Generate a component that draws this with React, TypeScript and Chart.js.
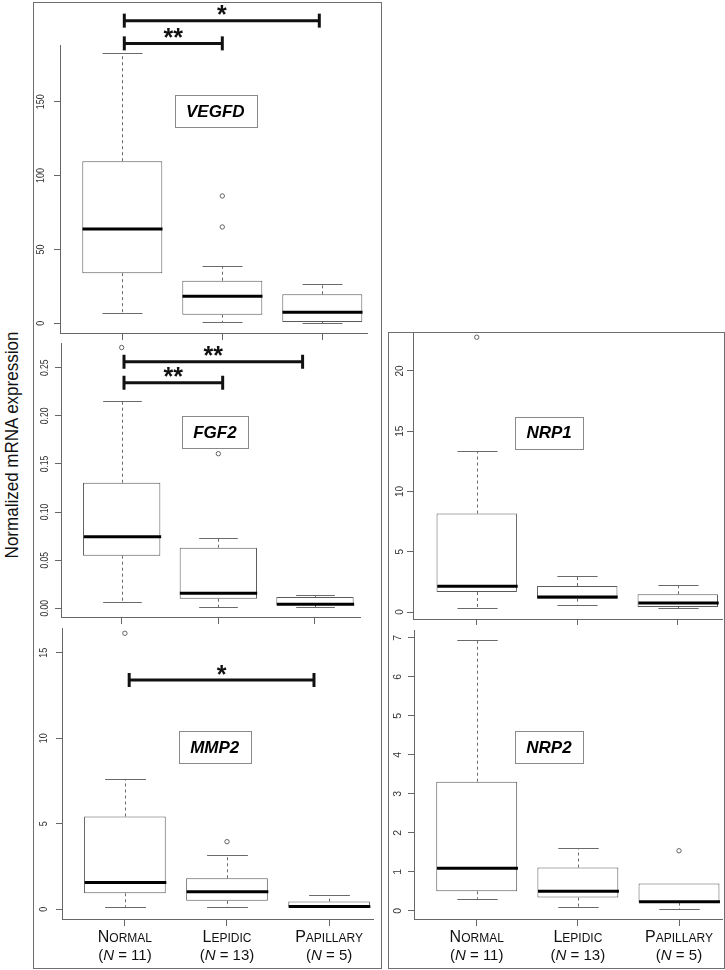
import React, { useEffect, useRef } from "react";
import { Chart, registerables } from "chart.js";

Chart.register(...registerables);

const FONT = '"Liberation Sans", Arial, Helvetica, sans-serif';

// ---------- shared categories ----------
const CATEGORIES = ["Normal", "Lepidic", "Papillary"];
const GROUP_SIZES = [11, 13, 5];
const CATEGORY_POSITIONS = [1, 2, 3];

// ---------- VEGFD ----------
const VEGFD_LOW = [6.8, 1.1, 0.5];
const VEGFD_Q1 = [33.9, 5.8, 0.9];
const VEGFD_MEDIAN = [63.8, 18.3, 7.4];
const VEGFD_Q3 = [109.7, 28.8, 19.6];
const VEGFD_HIGH = [182.8, 38.8, 26.4];
const VEGFD_OUTLIERS = [[], [65.2, 86.2], []];
const VEGFD_Y_TICKS = [0, 50, 100, 150];
const VEGFD_Y_TICK_LABELS = ["0", "50", "100", "150"];
const VEGFD_BRACKET_FROM = [1.02, 1.02];
const VEGFD_BRACKET_TO = [2.0, 2.97];
const VEGFD_BRACKET_Y = [189.5, 204.9];
const VEGFD_BRACKET_MARKS = ["**", "*"];

// ---------- FGF2 ----------
const FGF2_LOW = [0.0069, 0.001, 0.001];
const FGF2_Q1 = [0.0547, 0.01, 0.0035];
const FGF2_MEDIAN = [0.0744, 0.0156, 0.0042];
const FGF2_Q3 = [0.1305, 0.063, 0.0118];
const FGF2_HIGH = [0.215, 0.0727, 0.0135];
const FGF2_OUTLIERS = [[0.271], [0.1607], []];
const FGF2_Y_TICKS = [0, 0.05, 0.1, 0.15, 0.2, 0.25];
const FGF2_Y_TICK_LABELS = ["0.00", "0.05", "0.10", "0.15", "0.20", "0.25"];
const FGF2_BRACKET_FROM = [1.024, 1.024];
const FGF2_BRACKET_TO = [2.045, 2.872];
const FGF2_BRACKET_Y = [0.2344, 0.2562];
const FGF2_BRACKET_MARKS = ["**", "**"];

// ---------- MMP2 ----------
const MMP2_LOW = [0.12, 0.16, 0.12];
const MMP2_Q1 = [0.935, 0.49, 0.14];
const MMP2_MEDIAN = [1.56, 1.03, 0.16];
const MMP2_Q3 = [5.42, 1.81, 0.45];
const MMP2_HIGH = [7.62, 3.18, 0.82];
const MMP2_OUTLIERS = [[16.13], [3.95], []];
const MMP2_Y_TICKS = [0, 5, 10, 15];
const MMP2_Y_TICK_LABELS = ["0", "5", "10", "15"];
const MMP2_BRACKET_FROM = [1.042];
const MMP2_BRACKET_TO = [2.852];
const MMP2_BRACKET_Y = [13.4];
const MMP2_BRACKET_MARKS = ["*"];

// ---------- NRP1 ----------
const NRP1_LOW = [0.36, 0.61, 0.36];
const NRP1_Q1 = [1.66, 1.11, 0.42];
const NRP1_MEDIAN = [2.13, 1.25, 0.75];
const NRP1_Q3 = [8.17, 2.16, 1.47];
const NRP1_HIGH = [13.32, 3.02, 2.27];
const NRP1_OUTLIERS = [[22.8], [], []];
const NRP1_Y_TICKS = [0, 5, 10, 15, 20];
const NRP1_Y_TICK_LABELS = ["0", "5", "10", "15", "20"];

// ---------- NRP2 ----------
const NRP2_LOW = [0.31, 0.085, 0.05];
const NRP2_Q1 = [0.5, 0.34, 0.21];
const NRP2_MEDIAN = [1.09, 0.5, 0.23];
const NRP2_Q3 = [3.31, 1.11, 0.7];
const NRP2_HIGH = [6.95, 1.62, 0.7];
const NRP2_OUTLIERS = [[], [], [1.54]];
const NRP2_Y_TICKS = [0, 1, 2, 3, 4, 5, 6, 7];
const NRP2_Y_TICK_LABELS = ["0", "1", "2", "3", "4", "5", "6", "7"];

const Y_AXIS_TITLE = "Normalized mRNA expression";

type Panel = {
  gene: string;
  low: number[];
  q1: number[];
  med: number[];
  q3: number[];
  high: number[];
  outliers: number[][];
  yTicks: number[];
  yTickLabels: string[];
  bFrom: number[];
  bTo: number[];
  bY: number[];
  bMarks: string[];
  xRange: [number, number];
  yRange: [number, number];
  labelAt: [number, number];
  canvas: { left: number; top: number; width: number; height: number };
  area: { left: number; top: number; right: number; bottom: number };
  tickFont: number;
  tickGap: number;
  tickStretch: number;
  showCategories: boolean;
};

const PANELS: Panel[] = [
  {
    gene: "VEGFD",
    low: VEGFD_LOW, q1: VEGFD_Q1, med: VEGFD_MEDIAN, q3: VEGFD_Q3, high: VEGFD_HIGH,
    outliers: VEGFD_OUTLIERS, yTicks: VEGFD_Y_TICKS, yTickLabels: VEGFD_Y_TICK_LABELS,
    bFrom: VEGFD_BRACKET_FROM, bTo: VEGFD_BRACKET_TO, bY: VEGFD_BRACKET_Y, bMarks: VEGFD_BRACKET_MARKS,
    xRange: [0.377, 3.447], yRange: [-6.6, 188.4], labelAt: [1.93, 143.7],
    canvas: { left: 34, top: 3, width: 346, height: 340 },
    area: { left: 26, top: 42, right: 333, bottom: 330 },
    tickFont: 9, tickGap: 19, tickStretch: 1.3, showCategories: false,
  },
  {
    gene: "FGF2",
    low: FGF2_LOW, q1: FGF2_Q1, med: FGF2_MEDIAN, q3: FGF2_Q3, high: FGF2_HIGH,
    outliers: FGF2_OUTLIERS, yTicks: FGF2_Y_TICKS, yTickLabels: FGF2_Y_TICK_LABELS,
    bFrom: FGF2_BRACKET_FROM, bTo: FGF2_BRACKET_TO, bY: FGF2_BRACKET_Y, bMarks: FGF2_BRACKET_MARKS,
    xRange: [0.372, 3.466], yRange: [-0.009, 0.2757], labelAt: [1.965, 0.1832],
    canvas: { left: 34, top: 343, width: 346, height: 282 },
    area: { left: 27, top: 0, right: 326, bottom: 274 },
    tickFont: 8.5, tickGap: 16.5, tickStretch: 1.3, showCategories: false,
  },
  {
    gene: "MMP2",
    low: MMP2_LOW, q1: MMP2_Q1, med: MMP2_MEDIAN, q3: MMP2_Q3, high: MMP2_HIGH,
    outliers: MMP2_OUTLIERS, yTicks: MMP2_Y_TICKS, yTickLabels: MMP2_Y_TICK_LABELS,
    bFrom: MMP2_BRACKET_FROM, bTo: MMP2_BRACKET_TO, bY: MMP2_BRACKET_Y, bMarks: MMP2_BRACKET_MARKS,
    xRange: [0.384, 3.43], yRange: [-0.57, 16.44], labelAt: [1.88, 9.49],
    canvas: { left: 34, top: 625, width: 346, height: 342 },
    area: { left: 28, top: 3, right: 339, bottom: 294 },
    tickFont: 9, tickGap: 18, tickStretch: 1.3, showCategories: true,
  },
  {
    gene: "NRP1",
    low: NRP1_LOW, q1: NRP1_Q1, med: NRP1_MEDIAN, q3: NRP1_Q3, high: NRP1_HIGH,
    outliers: NRP1_OUTLIERS, yTicks: NRP1_Y_TICKS, yTickLabels: NRP1_Y_TICK_LABELS,
    bFrom: [], bTo: [], bY: [], bMarks: [],
    xRange: [0.366, 3.45], yRange: [-0.58, 23.15], labelAt: [1.72, 14.87],
    canvas: { left: 389, top: 333, width: 334, height: 292 },
    area: { left: 24, top: 0, right: 334, bottom: 286 },
    tickFont: 10, tickGap: 13, tickStretch: 1.0, showCategories: false,
  },
  {
    gene: "NRP2",
    low: NRP2_LOW, q1: NRP2_Q1, med: NRP2_MEDIAN, q3: NRP2_Q3, high: NRP2_HIGH,
    outliers: NRP2_OUTLIERS, yTicks: NRP2_Y_TICKS, yTickLabels: NRP2_Y_TICK_LABELS,
    bFrom: [], bTo: [], bY: [], bMarks: [],
    xRange: [0.38, 3.435], yRange: [-0.21, 7.2], labelAt: [1.714, 4.2],
    canvas: { left: 389, top: 625, width: 334, height: 342 },
    area: { left: 25, top: 5, right: 334, bottom: 294 },
    tickFont: 10.5, tickGap: 15.5, tickStretch: 1.0, showCategories: true,
  },
];

function line(ctx: CanvasRenderingContext2D, x1: number, y1: number, x2: number, y2: number) {
  ctx.beginPath();
  ctx.moveTo(x1, y1);
  ctx.lineTo(x2, y2);
  ctx.stroke();
}

function makePlugin(p: Panel) {
  return {
    id: "boxExtras" + p.gene,
    afterDatasetsDraw(chart: any) {
      const ctx: CanvasRenderingContext2D = chart.ctx;
      const xs = chart.scales.x;
      const ys = chart.scales.y;
      ctx.save();
      CATEGORY_POSITIONS.forEach((pos, i) => {
        const cx = Math.round(xs.getPixelForValue(pos)) + 0.5;
        const capHalf = xs.getPixelForValue(pos + 0.2) - xs.getPixelForValue(pos);
        const boxHalf = xs.getPixelForValue(pos + 0.4) - xs.getPixelForValue(pos);
        const yLow = Math.round(ys.getPixelForValue(p.low[i])) + 0.5;
        const yHigh = Math.round(ys.getPixelForValue(p.high[i])) + 0.5;
        const yQ1 = ys.getPixelForValue(p.q1[i]);
        const yQ3 = ys.getPixelForValue(p.q3[i]);
        const yMed = ys.getPixelForValue(p.med[i]);
        ctx.strokeStyle = "#6a6a6a";
        ctx.lineWidth = 1;
        ctx.setLineDash([3, 3]);
        if (p.high[i] > p.q3[i]) line(ctx, cx, yQ3, cx, yHigh);
        if (p.low[i] < p.q1[i]) line(ctx, cx, yQ1, cx, yLow);
        ctx.setLineDash([]);
        if (p.high[i] > p.q3[i]) line(ctx, cx - capHalf, yHigh, cx + capHalf, yHigh);
        line(ctx, cx - capHalf, yLow, cx + capHalf, yLow);
        ctx.strokeStyle = "#000";
        ctx.lineWidth = 3;
        line(ctx, cx - boxHalf, yMed, cx + boxHalf, yMed);
      });
      ctx.restore();
    },
    afterDraw(chart: any) {
      const ctx: CanvasRenderingContext2D = chart.ctx;
      const xs = chart.scales.x;
      const ys = chart.scales.y;
      const area = chart.chartArea;
      ctx.save();

      // y tick labels (rotated, parallel to the axis)
      ctx.fillStyle = "#333";
      ctx.font = `${p.tickFont}px ${FONT}`;
      ctx.textAlign = "center";
      ctx.textBaseline = "middle";
      p.yTicks.forEach((v, i) => {
        const y = ys.getPixelForValue(v);
        ctx.save();
        ctx.translate(area.left - p.tickGap, y);
        ctx.rotate(-Math.PI / 2);
        ctx.scale(1, p.tickStretch);
        ctx.fillText(p.yTickLabels[i], 0, 0);
        ctx.restore();
      });

      // significance brackets
      p.bY.forEach((v, i) => {
        const y = ys.getPixelForValue(v);
        const x1 = xs.getPixelForValue(p.bFrom[i]);
        const x2 = xs.getPixelForValue(p.bTo[i]);
        ctx.strokeStyle = "#111";
        ctx.lineWidth = 3;
        ctx.lineCap = "butt";
        line(ctx, x1, y, x2, y);
        line(ctx, x1, y - 7, x1, y + 7);
        line(ctx, x2, y - 7, x2, y + 7);
        ctx.font = `bold 25px ${FONT}`;
        ctx.textAlign = "center";
        ctx.textBaseline = "alphabetic";
        ctx.fillStyle = "#111";
        const m = ctx.measureText(p.bMarks[i]);
        const base = y - 10.5 - (m.actualBoundingBoxDescent - m.actualBoundingBoxAscent) / 2;
        ctx.fillText(p.bMarks[i], (x1 + x2) / 2, base);
      });

      // gene label box
      {
        const cx = xs.getPixelForValue(p.labelAt[0]);
        const cy = ys.getPixelForValue(p.labelAt[1]);
        ctx.font = `italic bold 17px ${FONT}`;
        const w = ctx.measureText(p.gene).width + 23;
        const h = 32;
        const left = Math.round(cx - w / 2) + 0.5;
        const top = Math.round(cy - h / 2) + 0.5;
        ctx.fillStyle = "#fff";
        ctx.fillRect(left, top, Math.round(w), h);
        ctx.strokeStyle = "#8a8a8a";
        ctx.lineWidth = 1;
        ctx.strokeRect(left, top, Math.round(w), h);
        ctx.fillStyle = "#000";
        ctx.textAlign = "center";
        ctx.textBaseline = "middle";
        ctx.fillText(p.gene, cx, cy + 1);
      }

      // category labels
      if (p.showCategories) {
        const base1 = area.bottom + 23;
        const base2 = area.bottom + 41;
        ctx.fillStyle = "#111";
        ctx.textAlign = "left";
        ctx.textBaseline = "alphabetic";
        CATEGORY_POSITIONS.forEach((pos, i) => {
          const cx = xs.getPixelForValue(pos);
          const name = CATEGORIES[i];
          const head = name[0].toUpperCase();
          const tail = name.slice(1).toUpperCase();
          const big = `16px ${FONT}`;
          const small = `12px ${FONT}`;
          ctx.font = big;
          const wh = ctx.measureText(head).width;
          ctx.font = small;
          const wt = ctx.measureText(tail).width;
          let x = cx - (wh + wt) / 2;
          ctx.font = big;
          ctx.fillText(head, x, base1);
          ctx.font = small;
          ctx.fillText(tail, x + wh, base1);

          const parts: [string, string][] = [
            ["(", `15px ${FONT}`],
            ["N", `italic 15px ${FONT}`],
            [` = ${GROUP_SIZES[i]})`, `15px ${FONT}`],
          ];
          let total = 0;
          parts.forEach(([t, f]) => {
            ctx.font = f;
            total += ctx.measureText(t).width;
          });
          x = cx - total / 2;
          parts.forEach(([t, f]) => {
            ctx.font = f;
            ctx.fillText(t, x, base2);
            x += ctx.measureText(t).width;
          });
        });
      }
      ctx.restore();
    },
  };
}

function BoxPanel({ p }: { p: Panel }) {
  const ref = useRef<HTMLCanvasElement>(null);
  useEffect(() => {
    const canvas = ref.current;
    if (!canvas) return;
    const yAxisWidth = p.area.left;
    const xAxisHeight = p.canvas.height - p.area.bottom;
    const outlierPoints: { x: number; y: number }[] = [];
    p.outliers.forEach((vals, i) => vals.forEach((v) => outlierPoints.push({ x: CATEGORY_POSITIONS[i], y: v })));

    const chart = new Chart(canvas, {
      type: "bar",
      data: {
        datasets: [
          {
            type: "scatter",
            data: outlierPoints,
            pointRadius: 2.2,
            pointBorderWidth: 0.9,
            pointBorderColor: "#555",
            pointBackgroundColor: "#fff",
            pointHoverRadius: 2.2,
          } as any,
          {
            type: "bar",
            data: CATEGORY_POSITIONS.map((pos, i) => ({ x: pos, y: [p.q1[i], p.q3[i]] })),
            backgroundColor: "#fff",
            borderColor: "#5a5a5a",
            borderWidth: 1,
            borderSkipped: false,
            barPercentage: 0.8,
            categoryPercentage: 1,
          } as any,
        ],
      },
      options: {
        responsive: false,
        maintainAspectRatio: false,
        animation: false,
        events: [],
        layout: {
          autoPadding: false,
          padding: {
            left: 0,
            top: p.area.top,
            right: p.canvas.width - p.area.right,
            bottom: 0,
          },
        },
        plugins: {
          legend: { display: false },
          tooltip: { enabled: false },
          title: { display: false },
        },
        scales: {
          x: {
            type: "linear",
            min: p.xRange[0],
            max: p.xRange[1],
            offset: false,
            grid: {
              offset: false,
              drawOnChartArea: false,
              drawTicks: true,
              tickLength: 7,
              color: "#666",
              lineWidth: 1,
            },
            border: { display: true, color: "#666", width: 1 },
            ticks: { display: false },
            afterBuildTicks: (s: any) => {
              s.ticks = CATEGORY_POSITIONS.map((v) => ({ value: v }));
            },
            afterFit: (s: any) => {
              s.height = xAxisHeight;
            },
          },
          y: {
            type: "linear",
            min: p.yRange[0],
            max: p.yRange[1],
            beginAtZero: false,
            grid: {
              drawOnChartArea: false,
              drawTicks: true,
              tickLength: 6,
              color: "#666",
              lineWidth: 1,
            },
            border: { display: true, color: "#666", width: 1 },
            ticks: { display: false },
            afterBuildTicks: (s: any) => {
              s.ticks = p.yTicks.map((v) => ({ value: v }));
            },
            afterFit: (s: any) => {
              s.width = yAxisWidth;
            },
          },
        } as any,
      },
      plugins: [makePlugin(p)],
    });
    return () => chart.destroy();
  }, [p]);

  return (
    <canvas
      ref={ref}
      width={p.canvas.width}
      height={p.canvas.height}
      style={{
        position: "absolute",
        left: p.canvas.left,
        top: p.canvas.top,
        width: p.canvas.width,
        height: p.canvas.height,
      }}
    />
  );
}

export default function App() {
  return (
    <div
      style={{
        position: "absolute",
        left: 0,
        top: 0,
        width: 725,
        height: 970,
        background: "#fff",
        overflow: "hidden",
        fontFamily: FONT,
      }}
    >
      {/* left frame */}
      <div
        style={{
          position: "absolute",
          left: 33,
          top: 2,
          width: 349,
          height: 967,
          boxSizing: "border-box",
          border: "1px solid #6e6e6e",
        }}
      />
      {/* right frame */}
      <div
        style={{
          position: "absolute",
          left: 388,
          top: 332,
          width: 337,
          height: 637,
          boxSizing: "border-box",
          border: "1px solid #6e6e6e",
        }}
      />
      {PANELS.map((p) => (
        <BoxPanel key={p.gene} p={p} />
      ))}
      <div
        style={{
          position: "absolute",
          left: 12,
          top: 445,
          transform: "translate(-50%, -50%) rotate(-90deg) scale(1, 1.12)",
          whiteSpace: "nowrap",
          fontSize: 17,
          color: "#111",
          fontFamily: FONT,
        }}
      >
        {Y_AXIS_TITLE}
      </div>
    </div>
  );
}
